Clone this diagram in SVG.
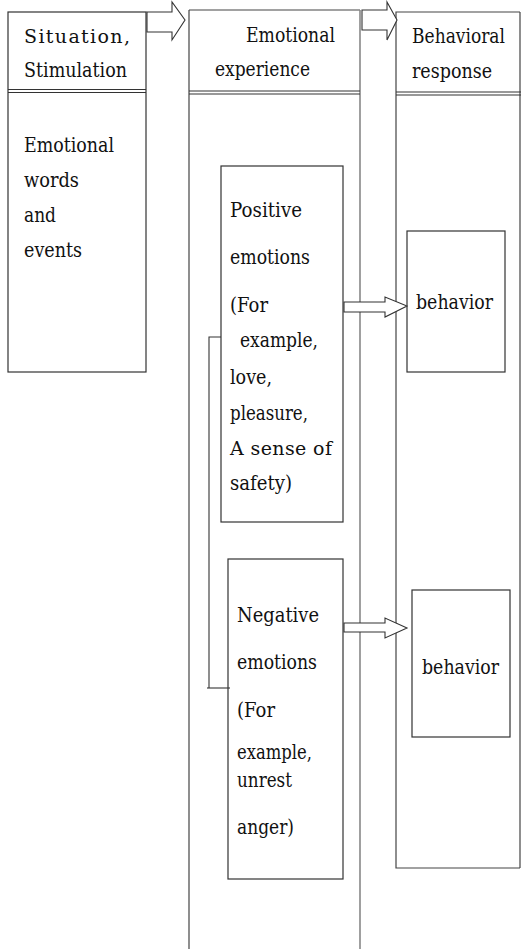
<svg xmlns="http://www.w3.org/2000/svg" width="521" height="949" viewBox="0 0 521 949">
<style>
.box{fill:#fff;stroke:#333;stroke-width:1.2}
.col{fill:none;stroke:#444;stroke-width:1.2}
.gcol{fill:none;stroke:#888;stroke-width:1.6}
.dbl{stroke:#333;stroke-width:1.2}
.arr{fill:#fff;stroke:#333;stroke-width:1.1}
</style>
<rect width="521" height="949" fill="#fff"/>
<g font-family="DejaVu Serif, Liberation Serif, serif" font-size="21" fill="#111">
<g id="col-situation">
<rect class="box" x="8" y="12" width="138" height="360"/>
<line class="dbl" x1="8" y1="89.5" x2="146" y2="89.5"/>
<line class="dbl" x1="8" y1="92.5" x2="146" y2="92.5"/>
<text x="24" y="43" font-size="19" textLength="106" lengthAdjust="spacing">Situation,</text>
<text x="24" y="77" textLength="103" lengthAdjust="spacingAndGlyphs">Stimulation</text>
<text x="24" y="152" textLength="90" lengthAdjust="spacingAndGlyphs">Emotional</text>
<text x="24" y="187" textLength="55" lengthAdjust="spacingAndGlyphs">words</text>
<text x="24" y="222" textLength="32" lengthAdjust="spacingAndGlyphs">and</text>
<text x="24" y="257" textLength="58" lengthAdjust="spacingAndGlyphs">events</text>
</g>
<g id="col-experience">
<line class="col" x1="189" y1="10" x2="360" y2="10"/>
<line class="col" x1="189" y1="10" x2="189" y2="949"/>
<line class="gcol" x1="360" y1="10" x2="360" y2="949"/>
<line class="dbl" x1="189" y1="91" x2="360" y2="91"/>
<line class="dbl" x1="189" y1="94" x2="360" y2="94"/>
<text x="246" y="42" textLength="89" lengthAdjust="spacingAndGlyphs">Emotional</text>
<text x="215" y="76" textLength="95" lengthAdjust="spacingAndGlyphs">experience</text>
</g>
<g id="col-response">
<polyline class="col" points="520,12 396,12 396,868 520,868"/>
<line class="col" x1="520" y1="12" x2="520" y2="868"/>
<line class="dbl" x1="396" y1="92" x2="521" y2="92"/>
<line class="dbl" x1="396" y1="95" x2="521" y2="95"/>
<text x="412" y="43" font-size="19.5" textLength="93" lengthAdjust="spacingAndGlyphs">Behavioral</text>
<text x="412" y="78" textLength="80" lengthAdjust="spacingAndGlyphs">response</text>
</g>
<g id="positive">
<rect class="box" x="221" y="166" width="122" height="356"/>
<text x="230" y="217" textLength="72" lengthAdjust="spacingAndGlyphs">Positive</text>
<text x="230" y="264" textLength="80" lengthAdjust="spacingAndGlyphs">emotions</text>
<text x="230" y="312" textLength="38" lengthAdjust="spacingAndGlyphs">(For</text>
<text x="240" y="347" textLength="78" lengthAdjust="spacingAndGlyphs">example,</text>
<text x="230" y="384" textLength="42" lengthAdjust="spacingAndGlyphs">love,</text>
<text x="230" y="420" textLength="78" lengthAdjust="spacingAndGlyphs">pleasure,</text>
<text x="230" y="455" font-size="19" textLength="102" lengthAdjust="spacing">A sense of</text>
<text x="230" y="490" textLength="62" lengthAdjust="spacingAndGlyphs">safety)</text>
</g>
<g id="negative">
<rect class="box" x="228" y="559" width="115" height="320"/>
<text x="237" y="622" textLength="82" lengthAdjust="spacingAndGlyphs">Negative</text>
<text x="237" y="669" textLength="80" lengthAdjust="spacingAndGlyphs">emotions</text>
<text x="237" y="717" textLength="38" lengthAdjust="spacingAndGlyphs">(For</text>
<text x="237" y="759" textLength="75" lengthAdjust="spacingAndGlyphs">example,</text>
<text x="237" y="787" textLength="55" lengthAdjust="spacingAndGlyphs">unrest</text>
<text x="237" y="834" textLength="57" lengthAdjust="spacingAndGlyphs">anger)</text>
</g>
<g id="behavior1">
<rect class="box" x="407" y="231" width="98" height="141"/>
<text x="416" y="309" textLength="77" lengthAdjust="spacingAndGlyphs">behavior</text>
</g>
<g id="behavior2">
<rect class="box" x="412" y="590" width="98" height="147"/>
<text x="422" y="674" textLength="77" lengthAdjust="spacingAndGlyphs">behavior</text>
</g>
</g>
<g id="connectors">
<polygon class="arr" points="147,12 172,12 172,2 185,20 172,40 172,32 147,32"/>
<polygon class="arr" points="362,10 387,10 387,2 397,20 387,40 387,30 362,30"/>
<polygon class="arr" points="344,302 385,302 385,297 407,306 385,317 385,312 344,312"/>
<polygon class="arr" points="344,623 385,623 385,618 407,628 385,638 385,632 344,632"/>
<polyline fill="none" stroke="#333" stroke-width="1.1" points="221,337 209,337 209,688"/>
<line stroke="#333" stroke-width="1.1" x1="207" y1="688" x2="230" y2="688"/>
</g>
</svg>
